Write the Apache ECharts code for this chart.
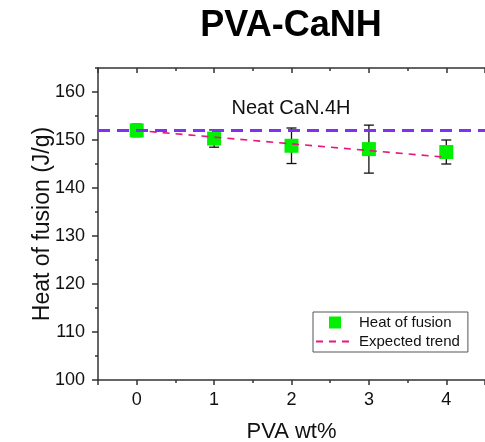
<!DOCTYPE html>
<html>
<head>
<meta charset="utf-8">
<script src="https://cdn.jsdelivr.net/npm/echarts@6/dist/echarts.min.js"></script>
<style>
  html, body { margin: 0; padding: 0; background: #fff; }
  #chart { width: 485px; height: 442px; }
</style>
</head>
<body>
<div id="chart"></div>
<script>
// PVA content (wt%) and measured heat of fusion
const pvaWt = [0, 1, 2, 3, 4];
const heatOfFusion = [152.0, 150.3, 148.8, 148.1, 147.5];
const heatError = [1.3, 1.8, 3.7, 5.0, 2.5];
const expectedTrend = [152.0, 150.6, 149.2, 147.8, 146.4];
const neatValue = 152;
const neatLabel = 'Neat CaN.4H';

const FONT = 'Liberation Sans, Arial, sans-serif';
const AXIS_COLOR = '#333';
const TEXT_COLOR = '#111';

const xRange = { min: -0.5, max: 4.5 };
const yRange = { min: 100, max: 165 };

const gridBox = { left: 98, right: 0, top: 68, bottom: 62, outerBoundsMode: 'none', containLabel: false };

const chart = echarts.init(document.getElementById('chart'));

const scatterData = pvaWt.map((x, i) => [x, heatOfFusion[i]]);
const errorData = pvaWt.map((x, i) => [x, heatOfFusion[i] - heatError[i], heatOfFusion[i] + heatError[i]]);
const trendData = pvaWt.map((x, i) => [x, expectedTrend[i]]);

const hiddenLabel = { show: false };
const lineStyle = { color: AXIS_COLOR, width: 1.5 };
const tickStyle = { color: AXIS_COLOR, width: 1.5 };

chart.setOption({
  animation: false,
  backgroundColor: '#fff',
  textStyle: { fontFamily: FONT },
  grid: [
    Object.assign({}, gridBox),
    Object.assign({}, gridBox)
  ],
  xAxis: [
    { // bottom axis: labels + half-step minor ticks
      type: 'value', gridIndex: 0, position: 'bottom',
      min: xRange.min, max: xRange.max, interval: 0.5,
      axisLine: { show: true, onZero: false, lineStyle: lineStyle },
      axisTick: { show: true, inside: false, length: 3, lineStyle: tickStyle },
      axisLabel: {
        show: true, margin: 11, color: TEXT_COLOR, fontSize: 18, fontFamily: FONT,
        formatter: v => (Number.isInteger(v) && v >= 0 && v <= 4) ? String(v) : ''
      },
      splitLine: { show: false },
      name: 'PVA wt%', nameLocation: 'middle', nameGap: 41, nameMoveOverlap: false,
      nameTextStyle: { color: TEXT_COLOR, fontSize: 22, fontFamily: FONT }
    },
    { // top frame: minor ticks pointing inward
      type: 'value', gridIndex: 0, position: 'top',
      min: xRange.min, max: xRange.max, interval: 0.5,
      axisLine: { show: true, onZero: false, lineStyle: lineStyle },
      axisTick: { show: true, inside: true, length: 3, lineStyle: tickStyle },
      axisLabel: hiddenLabel, splitLine: { show: false }
    },
    { // bottom major ticks
      type: 'value', gridIndex: 1, position: 'bottom',
      min: xRange.min, max: xRange.max, splitNumber: 5,
      axisLine: { show: false, onZero: false },
      axisTick: { show: true, inside: false, length: 5, lineStyle: tickStyle },
      axisLabel: hiddenLabel, splitLine: { show: false }
    },
    { // top major ticks
      type: 'value', gridIndex: 1, position: 'top',
      min: xRange.min, max: xRange.max, splitNumber: 5,
      axisLine: { show: false, onZero: false },
      axisTick: { show: true, inside: true, length: 5, lineStyle: tickStyle },
      axisLabel: hiddenLabel, splitLine: { show: false }
    }
  ],
  yAxis: [
    {
      type: 'value', gridIndex: 0, position: 'left',
      min: yRange.min, max: yRange.max, interval: 10,
      axisLine: { show: true, onZero: false, lineStyle: lineStyle },
      axisTick: { show: true, inside: false, length: 6, lineStyle: tickStyle },
      axisLabel: {
        show: true, margin: 13, color: TEXT_COLOR, fontSize: 18, fontFamily: FONT,
        showMaxLabel: false
      },
      splitLine: { show: false },
      name: 'Heat of fusion (J/g)', nameLocation: 'middle', nameGap: 44, nameRotate: 90,
      nameMoveOverlap: false,
      nameTextStyle: { color: TEXT_COLOR, fontSize: 23, fontFamily: FONT }
    },
    { // minor ticks every 5
      type: 'value', gridIndex: 1, position: 'left',
      min: yRange.min, max: yRange.max, interval: 5,
      axisLine: { show: false, onZero: false },
      axisTick: { show: true, inside: false, length: 3, lineStyle: tickStyle },
      axisLabel: hiddenLabel, splitLine: { show: false }
    }
  ],
  legend: {
    left: 313, top: 312,
    orient: 'vertical',
    padding: [3, 8, 3, 2],
    itemGap: 4,
    itemWidth: 38, itemHeight: 12,
    borderColor: '#555', borderWidth: 1,
    textStyle: { color: TEXT_COLOR, fontSize: 15, fontFamily: FONT },
    data: [
      { name: 'Heat of fusion', icon: 'path://M0,0H10V10H0Z' },
      { name: 'Expected trend', itemStyle: { opacity: 0 } }
    ]
  },
  graphic: [
    {
      type: 'text',
      style: { text: 'PVA-CaNH', x: 291, y: 26, textAlign: 'center', textVerticalAlign: 'middle',
               font: 'bold 36px ' + FONT, fill: '#000' }
    },
    {
      type: 'text',
      style: { text: neatLabel, x: 291, y: 108, textAlign: 'center', textVerticalAlign: 'middle',
               font: '20px ' + FONT, fill: TEXT_COLOR }
    }
  ],
  series: [
    {
      name: 'Neat', type: 'line', data: [], xAxisIndex: 0, yAxisIndex: 0, z: 1,
      markLine: {
        silent: true, symbol: 'none', label: { show: false },
        lineStyle: { color: '#8030f0', width: 3, type: [12, 7] },
        data: [{ yAxis: neatValue }]
      }
    },
    {
      name: 'Error', type: 'custom', xAxisIndex: 0, yAxisIndex: 0, z: 2,
      data: errorData,
      renderItem: function (params, api) {
        const x = api.value(0);
        const lo = api.coord([x, api.value(1)]);
        const hi = api.coord([x, api.value(2)]);
        const cap = 5;
        const style = { stroke: '#111', lineWidth: 1.3 };
        return {
          type: 'group',
          children: [
            { type: 'line', shape: { x1: lo[0], y1: lo[1], x2: hi[0], y2: hi[1] }, style: style },
            { type: 'line', shape: { x1: lo[0] - cap, y1: lo[1], x2: lo[0] + cap, y2: lo[1] }, style: style },
            { type: 'line', shape: { x1: hi[0] - cap, y1: hi[1], x2: hi[0] + cap, y2: hi[1] }, style: style }
          ]
        };
      }
    },
    {
      name: 'Heat of fusion', type: 'scatter', xAxisIndex: 0, yAxisIndex: 0, z: 3,
      symbol: 'rect', symbolSize: 14,
      itemStyle: { color: '#00f000', opacity: 1 },
      data: scatterData
    },
    {
      name: 'Expected trend', type: 'line', xAxisIndex: 0, yAxisIndex: 0, z: 4,
      showSymbol: false, symbol: 'none',
      lineStyle: { color: '#e8177f', width: 1.6, type: [7, 6] },
      itemStyle: { color: '#e8177f' },
      data: trendData
    }
  ]
});
</script>
</body>
</html>
